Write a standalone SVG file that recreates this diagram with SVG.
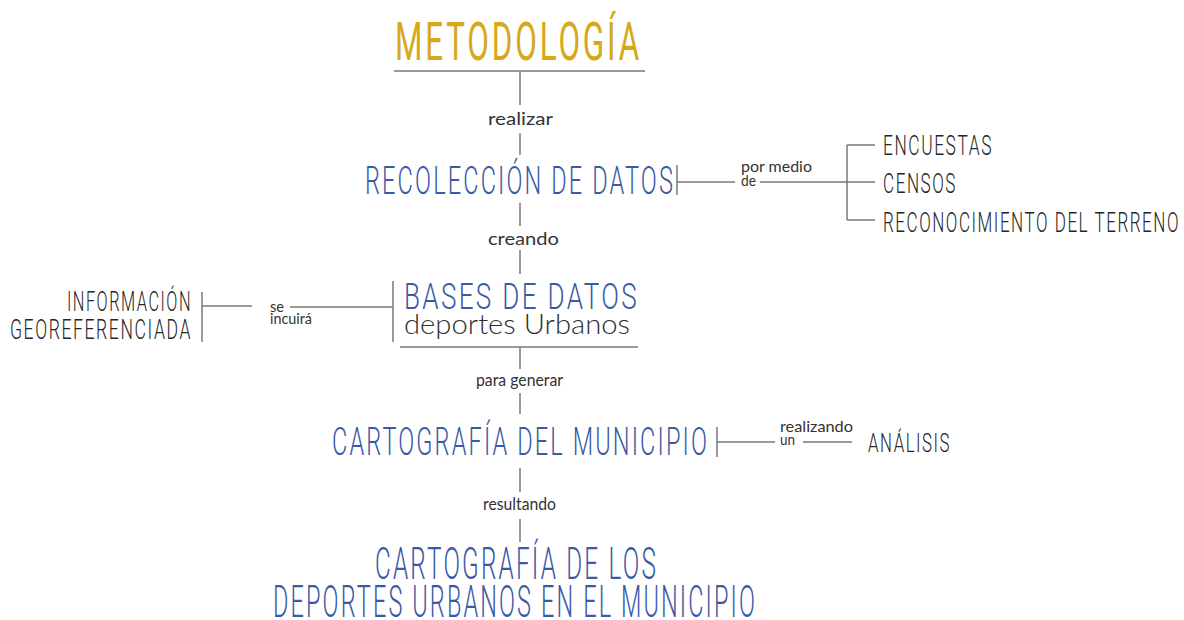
<svg xmlns="http://www.w3.org/2000/svg" width="1184" height="620" viewBox="0 0 1184 620">
<style>
.cond{font-family:Roboto,"Liberation Sans Narrow","DejaVu Sans Condensed",sans-serif;font-weight:300;letter-spacing:0.09em}
.blue{fill:#3b5aa6}
.dark{fill:#262626}
.gold{fill:#d6a81a;font-weight:400}
.lbl{font-family:Lato,"Liberation Sans",sans-serif;font-size:17.5px;fill:#333}
.sm{font-family:Lato,"Liberation Sans",sans-serif;font-size:15px;fill:#333}
.ln{stroke:#7a7a7a;stroke-width:1.5;fill:none}
</style>
<rect width="1184" height="620" fill="#ffffff"/>
<g id="connectors">
<path class="ln" d="M394 71H645M520 71V105M520 133V155M520 203V226M520 250V274M520 347V369M520 393V414M520 468V492M520 519V542"/>
<path class="ln" d="M677 165V195M677 182H735M760 182H875M847 145V220M847 145H875M847 220H875"/>
<path class="ln" d="M202 292V342M202 306H252M290 307H393M393 281V342M400 347H638"/>
<path class="ln" d="M717 427V457M717 442H775M803 442H852"/>
</g>
<g id="metodologia"><text class="cond gold" x="395" y="60" font-size="53" textLength="247" lengthAdjust="spacingAndGlyphs">METODOLOGÍA</text></g>
<g id="lbl-realizar"><text class="lbl" x="488" y="125" textLength="65" lengthAdjust="spacingAndGlyphs">realizar</text></g>
<g id="recoleccion"><text class="cond blue" x="365" y="194" font-size="38" textLength="310" lengthAdjust="spacingAndGlyphs">RECOLECCIÓN DE DATOS</text></g>
<g id="lbl-pormedio"><text class="sm" x="741" y="172" textLength="71" lengthAdjust="spacingAndGlyphs">por medio</text><text class="sm" x="741" y="186" textLength="15" lengthAdjust="spacingAndGlyphs">de</text></g>
<g id="encuestas"><text class="cond dark" x="883" y="155" font-size="28" textLength="110" lengthAdjust="spacingAndGlyphs">ENCUESTAS</text></g>
<g id="censos"><text class="cond dark" x="883" y="193" font-size="28" textLength="74" lengthAdjust="spacingAndGlyphs">CENSOS</text></g>
<g id="reconocimiento"><text class="cond dark" x="883" y="232" font-size="28" textLength="297" lengthAdjust="spacingAndGlyphs">RECONOCIMIENTO DEL TERRENO</text></g>
<g id="lbl-creando"><text class="lbl" x="488" y="245" textLength="71" lengthAdjust="spacingAndGlyphs">creando</text></g>
<g id="bases"><text class="cond blue" x="404" y="309" font-size="36.5" textLength="235" lengthAdjust="spacingAndGlyphs">BASES DE DATOS</text>
<text x="404" y="334" font-family="Lato,'Liberation Sans',sans-serif" font-weight="300" font-size="28" fill="#2e2e2e" textLength="226" lengthAdjust="spacingAndGlyphs">deportes Urbanos</text></g>
<g id="lbl-seincuira"><text class="sm" x="270" y="312" textLength="14" lengthAdjust="spacingAndGlyphs">se</text><text class="sm" x="270" y="324" textLength="42" lengthAdjust="spacingAndGlyphs">incuirá</text></g>
<g id="informacion"><text class="cond dark" x="192" y="311" font-size="28" text-anchor="end" textLength="125" lengthAdjust="spacingAndGlyphs">INFORMACIÓN</text>
<text class="cond dark" x="192" y="339" font-size="28" text-anchor="end" textLength="182" lengthAdjust="spacingAndGlyphs">GEOREFERENCIADA</text></g>
<g id="lbl-paragenerar"><text class="lbl" x="476" y="386" textLength="87" lengthAdjust="spacingAndGlyphs">para generar</text></g>
<g id="cartografia"><text class="cond blue" x="332" y="455" font-size="38" textLength="377" lengthAdjust="spacingAndGlyphs">CARTOGRAFÍA DEL MUNICIPIO</text></g>
<g id="lbl-realizando"><text class="sm" x="780" y="432" textLength="73" lengthAdjust="spacingAndGlyphs">realizando</text><text class="sm" x="780" y="445" textLength="15" lengthAdjust="spacingAndGlyphs">un</text></g>
<g id="analisis"><text class="cond dark" x="868" y="452" font-size="26" textLength="83" lengthAdjust="spacingAndGlyphs">ANÁLISIS</text></g>
<g id="lbl-resultando"><text class="lbl" x="483" y="510" textLength="73" lengthAdjust="spacingAndGlyphs">resultando</text></g>
<g id="resultado"><text class="cond blue" x="375" y="579" font-size="43.5" textLength="283" lengthAdjust="spacingAndGlyphs">CARTOGRAFÍA DE LOS</text>
<text class="cond blue" x="273" y="617" font-size="43.5" textLength="484" lengthAdjust="spacingAndGlyphs">DEPORTES URBANOS EN EL MUNICIPIO</text></g>
</svg>
